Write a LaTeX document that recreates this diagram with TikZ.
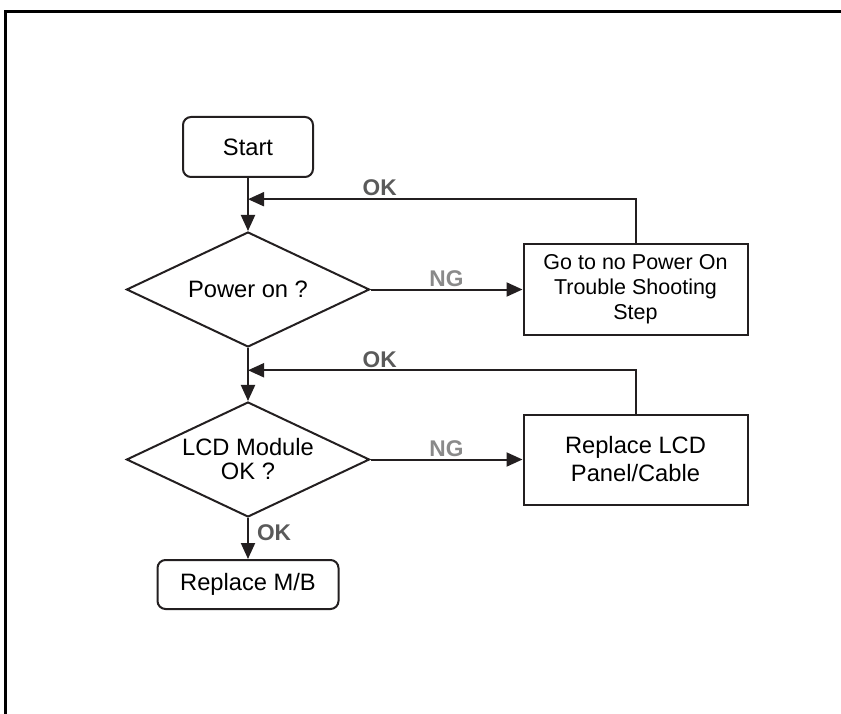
\documentclass[tikz,border=0pt]{standalone}
\usepackage{fontspec}
\setmainfont{Liberation Sans}
\usepackage{tikz}
\usetikzlibrary{arrows.meta,positioning,calc,shapes.geometric}
\definecolor{ink}{HTML}{231F20}
\definecolor{okgray}{HTML}{5A5A5A}
\definecolor{nggray}{HTML}{8A8A8A}

\begin{document}
\begin{tikzpicture}[x=1pt,y=-1pt,
  terminal/.style={draw=ink,line width=2pt,rounded corners=8pt,minimum width=130pt,minimum height=60pt,align=center},
  decision/.style={draw=ink,line width=2pt,diamond,aspect=2.1,minimum width=243pt,minimum height=115pt,inner sep=0pt,align=center},
  action/.style={draw=ink,line width=2pt,minimum width=224pt,minimum height=90pt,align=center},
  lbl/.style={font=\fontsize{22.7}{26}\selectfont\bfseries,inner sep=2pt},
  flow/.style={draw=ink,line width=2pt,-{Triangle[length=16pt,width=14pt]}},
  font=\fontsize{23.7}{26}\selectfont,
  node distance=53pt and 152pt]
  \useasboundingbox (0,0) rectangle (841,714);
  \draw[line width=3pt] (841,11.5) -- (5,11.5) -- (5,714);

  \node[terminal] (start) at (248,147) {Start};
  \node[decision,below=of start] (pwr) {Power on ?};
  \node[action,right=of pwr,font=\fontsize{21.5}{25}\selectfont] (nopwr) {Go to no Power On\\Trouble Shooting\\Step};
  \node[decision,below=of pwr,font=\fontsize{23.7}{24}\selectfont] (lcd) {LCD Module\\OK ?};
  \node[action,right=of lcd,font=\fontsize{23.7}{28}\selectfont] (lcdrep) {Replace LCD\\Panel/Cable};
  \node[terminal,minimum width=181pt,minimum height=49pt,below=41pt of lcd] (mb) {Replace M/B};

  \coordinate (okin1) at ($(start.south)!0.4!(pwr.north)$);
  \coordinate (okin2) at ($(pwr.south)!0.42!(lcd.north)$);

  \draw[flow] (start) -- (pwr);
  \draw[flow] (pwr) -- node[lbl,above,text=nggray] {NG} (nopwr);
  \draw[flow] (nopwr.north) |- node[lbl,above,pos=0.83,text=okgray] {OK} (okin1);
  \draw[flow] (pwr) -- (lcd);
  \draw[flow] (lcd) -- node[lbl,above,text=nggray] {NG} (lcdrep);
  \draw[flow] (lcdrep.north) |- node[lbl,above,pos=0.83,text=okgray] {OK} (okin2);
  \draw[flow] (lcd) -- node[lbl,right=6pt,pos=0.35,text=okgray] {OK} (mb);
\end{tikzpicture}
\end{document}
